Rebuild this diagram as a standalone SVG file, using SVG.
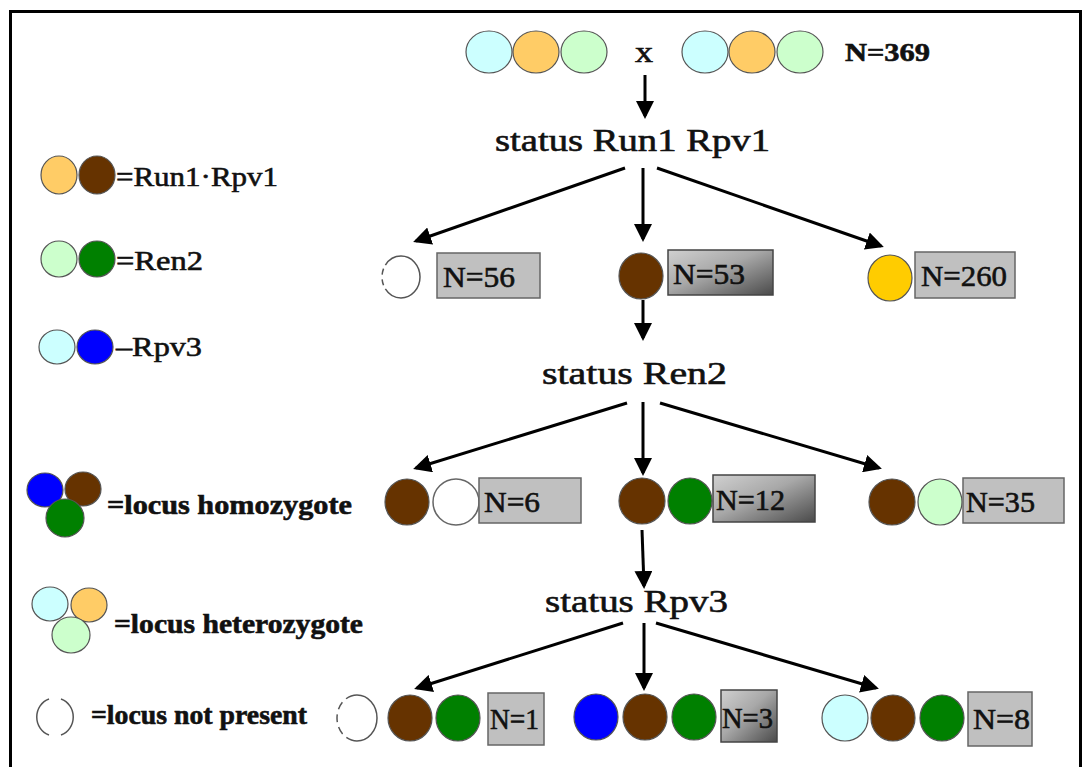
<svg xmlns="http://www.w3.org/2000/svg" width="1086" height="767" viewBox="0 0 1086 767">
<defs>
<style>
.t{font-family:"Liberation Serif","Times New Roman",serif;fill:#111;stroke:#111;stroke-width:0.6}
.st{font-size:32px}
.lb{font-size:30px}
.lg{font-size:28px}
.b{font-weight:bold}
.c{stroke:#555;stroke-width:1.2}
.cy{fill:#ccffff}.or{fill:#ffcc66}.lgn{fill:#ccffcc}.br{fill:#663300}.gr{fill:#008000}.bl{fill:#0000ff}.ye{fill:#ffcc00}
.em{fill:#fff;stroke:#666;stroke-width:1.5}
.dash{fill:none;stroke:#555;stroke-width:1.5}
.box{fill:#c0c0c0;stroke:#666;stroke-width:1.5}
.gbox{fill:url(#gg);stroke:#444;stroke-width:1.5}
.ar{stroke:#000;stroke-width:3;fill:none;marker-end:url(#ah)}
</style>
<linearGradient id="gg" x1="0" y1="0" x2="1" y2="1">
<stop offset="0" stop-color="#d0d0d0"/>
<stop offset="0.45" stop-color="#a8a8a8"/>
<stop offset="1" stop-color="#4a4a4a"/>
</linearGradient>
<marker id="ah" markerWidth="6" markerHeight="6" refX="5" refY="3" orient="auto" markerUnits="strokeWidth">
<path d="M0,0 L6,3 L0,6 Z" fill="#000"/>
</marker>
</defs>
<rect width="1086" height="767" fill="#fff"/>
<rect x="10.5" y="11.5" width="1070" height="790" fill="none" stroke="#000" stroke-width="3"/>

<g id="connectors">
<line class="ar" x1="645" y1="75" x2="645" y2="116"/>
<line class="ar" x1="625" y1="168" x2="416" y2="241"/>
<line class="ar" x1="643" y1="168" x2="643" y2="239"/>
<line class="ar" x1="657" y1="168" x2="881" y2="246"/>
<line class="ar" x1="643" y1="300" x2="643" y2="338"/>
<line class="ar" x1="627" y1="403" x2="416" y2="468"/>
<line class="ar" x1="643" y1="402" x2="643" y2="473"/>
<line class="ar" x1="660" y1="403" x2="879" y2="468"/>
<line class="ar" x1="642" y1="530" x2="644" y2="586"/>
<line class="ar" x1="623" y1="623" x2="417" y2="688"/>
<line class="ar" x1="644" y1="623" x2="644" y2="688"/>
<line class="ar" x1="656" y1="623" x2="876" y2="688"/>
</g>

<g id="parents">
<ellipse class="c cy" cx="489" cy="52" rx="23" ry="21"/>
<ellipse class="c or" cx="536" cy="52" rx="23" ry="21"/>
<ellipse class="c lgn" cx="584" cy="52" rx="23" ry="21"/>
<text class="t" x="635" y="62" font-size="30" textLength="18" lengthAdjust="spacingAndGlyphs">x</text>
<ellipse class="c cy" cx="705" cy="52" rx="23" ry="21"/>
<ellipse class="c or" cx="752" cy="52" rx="23" ry="21"/>
<ellipse class="c lgn" cx="800" cy="52" rx="23" ry="21"/>
<text class="t b" x="845" y="61" font-size="25" stroke-width="0.3" textLength="85" lengthAdjust="spacingAndGlyphs">N=369</text>
</g>

<g id="status-run1">
<text class="t st" x="495" y="151" textLength="275" lengthAdjust="spacingAndGlyphs">status Run1 Rpv1</text>
</g>

<g id="n56">
<ellipse class="dash" cx="401" cy="277" rx="19" ry="21" stroke-dasharray="50 4 6 5 6 4 100"/>
<rect class="box" x="437" y="253" width="103" height="45"/>
<text class="t lb" x="443" y="287" textLength="72" lengthAdjust="spacingAndGlyphs">N=56</text>
</g>
<g id="n53">
<ellipse class="c br" cx="641" cy="276" rx="22" ry="23"/>
<rect class="gbox" x="668" y="250" width="105" height="45"/>
<text class="t lb" x="673" y="284" textLength="72" lengthAdjust="spacingAndGlyphs">N=53</text>
</g>
<g id="n260">
<ellipse class="c ye" cx="890" cy="278" rx="22" ry="23"/>
<rect class="box" x="915" y="252" width="100" height="46"/>
<text class="t lb" x="921" y="286" textLength="86" lengthAdjust="spacingAndGlyphs">N=260</text>
</g>

<g id="status-ren2">
<text class="t st" x="542" y="384" textLength="185" lengthAdjust="spacingAndGlyphs">status Ren2</text>
</g>

<g id="n6">
<ellipse class="c br" cx="407" cy="502" rx="22" ry="23"/>
<ellipse class="em" cx="456" cy="502" rx="23" ry="23"/>
<rect class="box" x="479" y="478" width="102" height="45"/>
<text class="t lb" x="484" y="512" textLength="56" lengthAdjust="spacingAndGlyphs">N=6</text>
</g>
<g id="n12">
<ellipse class="c br" cx="642" cy="501" rx="23" ry="23"/>
<ellipse class="c gr" cx="690" cy="501" rx="22" ry="23"/>
<rect class="gbox" x="713" y="475" width="102" height="47"/>
<text class="t lb" x="716" y="510" textLength="69" lengthAdjust="spacingAndGlyphs">N=12</text>
</g>
<g id="n35">
<ellipse class="c br" cx="892" cy="502" rx="23" ry="23"/>
<ellipse class="c lgn" cx="940" cy="502" rx="22" ry="23"/>
<rect class="box" x="963" y="478" width="101" height="45"/>
<text class="t lb" x="966" y="512" textLength="69" lengthAdjust="spacingAndGlyphs">N=35</text>
</g>

<g id="status-rpv3">
<text class="t st" x="545" y="612" textLength="183" lengthAdjust="spacingAndGlyphs">status Rpv3</text>
</g>

<g id="n1">
<ellipse class="dash" cx="357" cy="718" rx="20" ry="23" stroke-dasharray="45 5 8 5 8 5 8 5 200"/>
<ellipse class="c br" cx="410" cy="718" rx="22" ry="23"/>
<ellipse class="c gr" cx="458" cy="718" rx="22" ry="23"/>
<rect class="box" x="488" y="693" width="56" height="52"/>
<text class="t lb" x="490" y="729" textLength="49" lengthAdjust="spacingAndGlyphs">N=1</text>
</g>
<g id="n3">
<ellipse class="c bl" cx="596" cy="717" rx="22" ry="23"/>
<ellipse class="c br" cx="645" cy="717" rx="22" ry="23"/>
<ellipse class="c gr" cx="694" cy="717" rx="22" ry="23"/>
<rect class="gbox" x="721" y="690" width="56" height="52"/>
<text class="t lb" x="722" y="728" textLength="51" lengthAdjust="spacingAndGlyphs">N=3</text>
</g>
<g id="n8">
<ellipse class="c cy" cx="845" cy="718" rx="23" ry="23"/>
<ellipse class="c br" cx="893" cy="718" rx="22" ry="23"/>
<ellipse class="c gr" cx="942" cy="718" rx="22" ry="23"/>
<rect class="box" x="968" y="692" width="64" height="54"/>
<text class="t lb" x="973" y="729" textLength="57" lengthAdjust="spacingAndGlyphs">N=8</text>
</g>

<g id="legend-run1">
<ellipse class="c or" cx="59" cy="175" rx="18" ry="19"/>
<ellipse class="c br" cx="97" cy="175" rx="18" ry="19"/>
<text class="t lg" x="116" y="186" textLength="162" lengthAdjust="spacingAndGlyphs">=Run1·Rpv1</text>
</g>
<g id="legend-ren2">
<ellipse class="c lgn" cx="59" cy="259" rx="18" ry="18"/>
<ellipse class="c gr" cx="97" cy="259" rx="18" ry="18"/>
<text class="t lg" x="116" y="270" textLength="87" lengthAdjust="spacingAndGlyphs">=Ren2</text>
</g>
<g id="legend-rpv3">
<ellipse class="c cy" cx="57" cy="347" rx="18" ry="17"/>
<ellipse class="c bl" cx="95" cy="347" rx="18" ry="17"/>
<text class="t lg" x="116" y="356" textLength="86" lengthAdjust="spacingAndGlyphs">–Rpv3</text>
</g>
<g id="legend-homozygote">
<ellipse class="c bl" cx="45" cy="490" rx="18" ry="17"/>
<ellipse class="c br" cx="83" cy="489" rx="18" ry="17"/>
<ellipse class="c gr" cx="65" cy="518" rx="19" ry="19"/>
<text class="t lg b" x="107" y="514" stroke-width="0.2" textLength="245" lengthAdjust="spacingAndGlyphs">=locus homozygote</text>
</g>
<g id="legend-heterozygote">
<ellipse class="c cy" cx="50" cy="604" rx="18" ry="17"/>
<ellipse class="c or" cx="89" cy="605" rx="18" ry="17"/>
<ellipse class="c lgn" cx="71" cy="635" rx="19" ry="18"/>
<text class="t lg b" x="114" y="633" stroke-width="0.2" textLength="249" lengthAdjust="spacingAndGlyphs">=locus heterozygote</text>
</g>
<g id="legend-notpresent">
<path class="dash" d="M49,699 A18,19 0 0 0 49,735"/>
<path class="dash" d="M61,699 A18,19 0 0 1 61,735"/>
<text class="t lg b" x="91" y="724" stroke-width="0.2" textLength="216" lengthAdjust="spacingAndGlyphs">=locus not present</text>
</g>
</svg>
